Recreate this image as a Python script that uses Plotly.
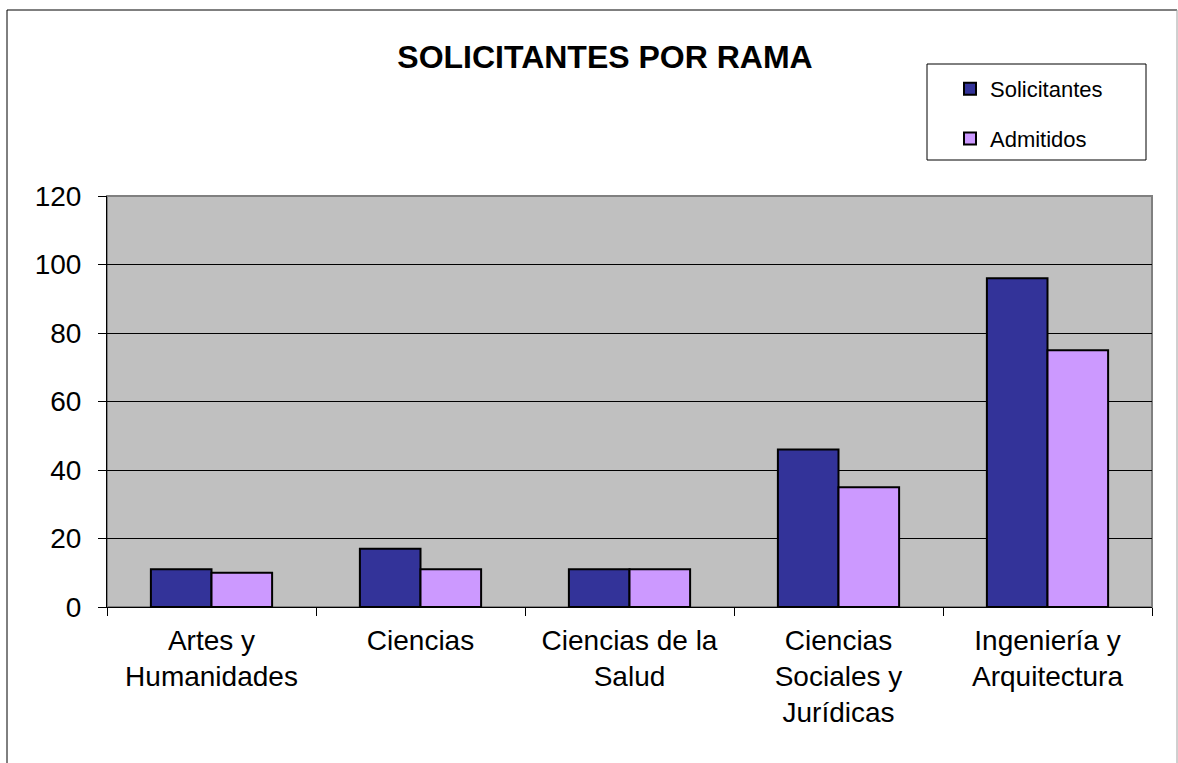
import plotly.graph_objects as go

categories = ["Artes y<br>Humanidades", "Ciencias", "Ciencias de la<br>Salud",
              "Ciencias<br>Sociales y<br>Jurídicas", "Ingeniería y<br>Arquitectura"]
solicitantes = [11, 17, 11, 46, 96]
admitidos = [10, 11, 11, 35, 75]
series_names = ["Solicitantes", "Admitidos"]
title_text = "SOLICITANTES POR RAMA"

W, H = 1178, 763
L, R, T, B = 107, 1152, 196, 607

def px_x(p):
    return (p - L) / (R - L)

def px_y(p):
    return (B - p) / (B - T)

fig = go.Figure()
fig.add_trace(go.Bar(x=categories, y=solicitantes, name=series_names[0],
                     marker=dict(color="#333399", line=dict(color="black", width=2)),
                     legendgroup="a"))
fig.add_trace(go.Bar(x=categories, y=admitidos, name=series_names[1],
                     marker=dict(color="#CC99FF", line=dict(color="black", width=2)),
                     legendgroup="b"))

font = "Liberation Sans, Arial, sans-serif"
fig.update_layout(
    width=W, height=H,
    margin=dict(l=L, r=W - R, t=T, b=H - B, autoexpand=False),
    paper_bgcolor="white",
    plot_bgcolor="#C0C0C0",
    barmode="group", bargap=0.42, bargroupgap=0,
    font=dict(family=font, color="black"),
    title=dict(text="<b>" + title_text + "</b>", x=605 / W, xref="container",
               xanchor="center", y=1 - 57 / H, yanchor="middle",
               font=dict(size=32, family=font, color="black")),
    showlegend=True,
    legend=dict(x=px_x(950), xanchor="left", y=px_y(68), yanchor="top",
                bgcolor="rgba(0,0,0,0)", borderwidth=0,
                font=dict(size=22, family=font, color="black"),
                traceorder="grouped", tracegroupgap=18),
    xaxis=dict(showgrid=False, showline=True, linecolor="black", linewidth=1,
               ticks="outside", tickson="boundaries", ticklen=8, tickcolor="black",
               ticklabelstandoff=8,
               tickfont=dict(size=28, family=font, color="black"), tickangle=0),
    yaxis=dict(range=[0, 120], dtick=20, showgrid=True, gridcolor="black", gridwidth=1,
               showline=True, linecolor="black", linewidth=1, zeroline=False,
               ticks="outside", ticklen=8, tickcolor="black", ticklabelstandoff=11,
               tickfont=dict(size=28, family=font, color="black")),
    shapes=[
        dict(type="rect", xref="paper", yref="paper", x0=0, x1=1, y0=0, y1=1,
             line=dict(color="#808080", width=2), layer="below"),
        dict(type="rect", xref="paper", yref="paper",
             x0=px_x(927), x1=px_x(1146), y0=px_y(160), y1=px_y(64),
             line=dict(color="black", width=1)),
        dict(type="line", xref="paper", yref="paper",
             x0=px_x(7), x1=px_x(7), y0=px_y(780), y1=px_y(10),
             line=dict(color="black", width=1)),
        dict(type="line", xref="paper", yref="paper",
             x0=px_x(7), x1=px_x(1177), y0=px_y(10), y1=px_y(10),
             line=dict(color="black", width=1)),
        dict(type="line", xref="paper", yref="paper",
             x0=px_x(1177), x1=px_x(1177), y0=px_y(780), y1=px_y(10),
             line=dict(color="#A0A0A0", width=1)),
    ],
)

fig.write_html("out.html", config={"displayModeBar": False},
               post_script="document.body.style.margin='0';")
